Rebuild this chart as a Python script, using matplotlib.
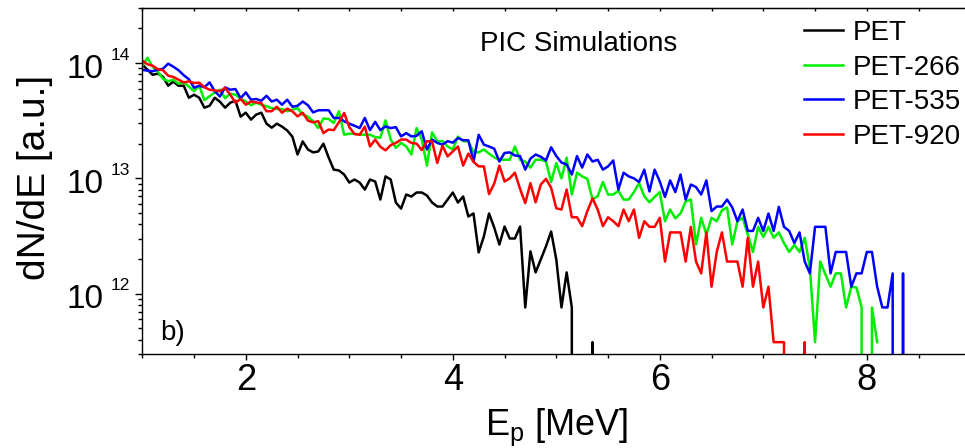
#!/usr/bin/env python3
"""Proton spectra from PIC simulations (PET targets), log-scale dN/dE vs energy."""
import numpy as np
import matplotlib
matplotlib.use("Agg")
import matplotlib.pyplot as plt
from matplotlib.ticker import LogLocator, MultipleLocator, NullFormatter

plt.rcParams["font.family"] = ["Liberation Sans", "DejaVu Sans"]
plt.rcParams["mathtext.fontset"] = "custom"
plt.rcParams["mathtext.rm"] = "Liberation Sans"
plt.rcParams["mathtext.it"] = "Liberation Sans:italic"

# energy bins start at 1 MeV, 0.05 MeV wide; values below are dN/dE in units of 1e12
E_START = 1.0
E_STEP = 0.05
UNIT = 1e12

PET = [
    97, 87.5, 79, 81, 76, 63.6, 68.9, 63.6, 63.6, 50.0,
    53.1, 50.0, 41.0, 42.6, 50.0, 46.2, 41.0, 45.3, 47.1, 34.3,
    37.1, 32.3, 35.7, 37.1, 29.8, 27.5, 29.8, 28.1, 26.0, 23.0,
    16.1, 20.9, 17.8, 16.8, 17.1, 20.0, 15.2, 11.9, 11.7, 10.8,
    9.2, 9.77, 9.2, 8.0, 9.77, 9.39, 6.55, 10.4, 9.77, 6.17,
    5.47, 7.24, 6.96, 7.54, 7.54, 7.10, 6.17, 5.70, 5.70, 6.55,
    7.54, 6.17, 6.96, 4.67, 4.96, 2.28, 3.13, 4.96, 3.75, 2.67,
    3.82, 3.01, 3.01, 3.82, 0.76, 2.33, 1.53, 1.98, 2.57, 3.46,
    1.98, 0.76, 1.53, 0.76, 0, 0, 0, 0.38, 0,
]

PET_266 = [
    94.8, 111, 92.9, 84.1, 73.2, 69.5, 71.7, 66.2, 68.1, 62.4,
    57.0, 63.6, 47.6, 51.6, 55.4, 58.7, 49.6, 54.2, 53.1, 49.1,
    46.4, 43.1, 45.3, 43.5, 42.2, 40.6, 40.0, 39.8, 38.2, 39.4,
    40.6, 35.7, 34.3, 31.3, 27.3, 33.0, 32.7, 30.2, 38.2, 23.9,
    24.4, 24.4, 23.9, 23.9, 23.9, 22.8, 22.5, 31.8, 21.7, 18.4,
    20.3, 18.9, 16.1, 27.3, 21.7, 12.9, 25.0, 21.0, 21.0, 18.9,
    17.8, 23.0, 21.0, 21.0, 16.8, 16.8, 17.8, 16.4, 15.2, 14.5,
    14.5, 14.5, 18.9, 14.5, 14.0, 12.4, 14.5, 14.5, 14.0, 9.3,
    13.6, 10.0, 15.1, 7.24, 11.2, 10.4, 9.9, 6.55, 7.0, 9.3,
    7.24, 7.24, 7.8, 6.55, 6.55, 7.6, 9.1, 7.0, 6.2, 6.9,
    7.6, 4.25, 5.37, 4.5, 4.96, 6.3, 6.55, 2.67, 4.55, 3.26,
    4.55, 4.25, 5.27, 5.6, 2.67, 4.25, 4.55, 3.26, 2.3, 3.8,
    3.1, 3.8, 3.05, 3.4, 2.75, 2.3, 2.65, 2.3, 3.05, 1.67,
    0.38, 1.9, 1.47, 1.15, 1.5, 1.5, 0.76, 1.15, 1.13, 0.76,
    0, 0.76, 0.38,
]

PET_535 = [
    87.5, 85.8, 84.9, 87.5, 89.3, 98.7, 92.9, 86.6, 78.4, 72.4,
    61.1, 63.6, 61.7, 67.9, 57.0, 51.3, 61.5, 58.7, 59.5, 49.6,
    55.6, 48.1, 48.8, 47.1, 52.0, 46.4, 48.1, 43.5, 48.1, 41.8,
    42.6, 46.4, 43.1, 37.3, 38.9, 39.0, 39.0, 33.4, 33.4, 31.3,
    29.8, 28.6, 27.3, 33.4, 26.2, 30.9, 26.2, 28.2, 27.3, 27.8,
    23.1, 24.7, 23.1, 23.4, 25.6, 17.8, 21.7, 20.3, 19.6, 21.0,
    20.4, 22.4, 21.4, 21.4, 14.0, 23.9, 19.6, 18.9, 18.1, 14.0,
    16.6, 16.8, 15.8, 15.6, 11.9, 14.8, 16.1, 15.4, 14.3, 18.6,
    15.6, 13.7, 13.2, 10.8, 15.6, 12.4, 16.1, 14.0, 14.5, 11.9,
    12.7, 14.3, 8.0, 11.2, 10.4, 10.0, 9.3, 11.9, 7.7, 11.9,
    9.4, 6.9, 9.6, 7.6, 10.8, 6.55, 8.84, 8.4, 7.24, 9.6,
    5.2, 5.7, 5.7, 6.55, 5.6, 4.25, 5.37, 3.5, 3.5, 4.55,
    3.5, 4.96, 3.5, 5.66, 3.8, 3.5, 2.75, 3.4, 1.9, 1.5,
    3.8, 3.8, 3.8, 1.5, 2.3, 2.3, 2.3, 1.15, 1.5, 1.5,
    2.3, 2.3, 1.15, 0.76, 0.76, 1.5, 0, 1.5, 0,
]

PET_920 = [
    104.7, 97.6, 94.8, 88.4, 86.6, 77.6, 75.7, 71.7, 67.9, 69.3,
    67.1, 67.5, 61.7, 58.7, 57.9, 57.0, 60.8, 53.1, 45.3, 48.8,
    43.5, 46.4, 45.5, 44.9, 38.2, 38.2, 41.8, 37.1, 40.2, 38.1,
    34.5, 37.1, 31.7, 30.6, 31.3, 24.7, 26.5, 26.2, 30.7, 36.9,
    27.8, 24.2, 23.9, 28.1, 18.9, 21.7, 18.8, 17.5, 19.4, 20.3,
    21.7, 21.7, 20.3, 20.0, 17.6, 21.0, 20.9, 13.6, 19.2, 15.5,
    17.1, 18.9, 12.9, 16.4, 13.9, 12.7, 12.7, 7.3, 9.0, 12.9,
    9.4, 10.0, 11.2, 8.1, 6.1, 9.1, 6.2, 8.84, 9.9, 8.3,
    5.5, 5.37, 8.0, 4.6, 4.6, 3.85, 5.2, 6.7, 5.37, 3.85,
    4.6, 4.25, 3.85, 5.37, 4.25, 5.37, 3.05, 4.25, 3.8, 3.8,
    4.55, 1.9, 3.4, 3.4, 3.4, 1.9, 3.8, 1.9, 1.5, 3.4,
    1.15, 2.3, 3.4, 1.9, 1.9, 1.9, 1.15, 3.05, 1.15, 1.9,
    0.76, 1.15, 0.38, 0.38, 0.38, 0, 0, 0, 0.38, 0,
]

SERIES = [PET, PET_266, PET_535, PET_920]
LABELS = ["PET", "PET-266", "PET-535", "PET-920"]
COLORS = ["#000000", "#00ee00", "#0000ff", "#ff0000"]
DECADES = [12, 13, 14]


def energies(n):
    return E_START + E_STEP * np.arange(n)


fig = plt.figure(figsize=(9.65, 4.48), dpi=100)
ax = fig.add_axes([142.3 / 965, 94 / 448, 828 / 965, 346 / 448])

for vals, label, color in zip(SERIES, LABELS, COLORS):
    y = np.asarray(vals, dtype=float) * UNIT
    ax.plot(energies(len(y)), y, color=color, lw=1.8, label=label)

ax.set_yscale("log", nonpositive="clip")
ax.set_xlim(1, 9)
ax.set_ylim(3e11, 3e14)

for side in ax.spines.values():
    side.set_linewidth(1.0)

# x ticks: out at the bottom, short inward ones along the top
ax.xaxis.set_major_locator(MultipleLocator(2))
ax.xaxis.set_minor_locator(MultipleLocator(0.5))
ax.tick_params(axis="x", which="major", direction="out", length=4.3, width=1.0,
               labelsize=26, pad=2, top=False)
ax.tick_params(axis="x", which="minor", direction="out", length=3, width=1.0, top=False)
top = ax.secondary_xaxis("top")
top.xaxis.set_major_locator(MultipleLocator(0.5))
top.xaxis.set_major_formatter(NullFormatter())
top.tick_params(axis="x", which="both", direction="in", length=2.2, width=1.0)

# y ticks: decades with hand-set 10^n labels
ax.yaxis.set_major_locator(LogLocator(base=10, numticks=10))
ax.yaxis.set_minor_locator(LogLocator(base=10, subs=np.arange(2, 10), numticks=20))
ax.yaxis.set_major_formatter(NullFormatter())
ax.yaxis.set_minor_formatter(NullFormatter())
ax.tick_params(axis="y", which="major", direction="out", length=5.3, width=1.0, right=False)
ax.tick_params(axis="y", which="minor", direction="out", length=3, width=1.0, right=False)
for d in DECADES:
    ax.annotate("10", xy=(0, 10.0 ** d), xycoords=ax.get_yaxis_transform(),
                xytext=(-39, -14.7), textcoords="offset pixels",
                ha="right", va="baseline", fontsize=24)
    ax.annotate(str(d), xy=(0, 10.0 ** d), xycoords=ax.get_yaxis_transform(),
                xytext=(-12.3, 3.3), textcoords="offset pixels",
                ha="right", va="baseline", fontsize=12.5)

ax.set_xlabel(r"E$_\mathregular{p}$ [MeV]", fontsize=26)
ax.xaxis.set_label_coords(0.5, -0.151)
ax.set_ylabel("dN/dE [a.u.]", fontsize=28)
ax.yaxis.set_label_coords(-0.108, 0.51)

ax.text(0.527, 0.895, "PIC Simulations", transform=ax.transAxes,
        ha="center", va="center", fontsize=20)
ax.text(0.0216, 0.04, "b)", transform=ax.transAxes, fontsize=20, va="baseline")

ax.legend(loc="upper left", bbox_to_anchor=(804 / 965, 1 - 20 / 448),
          bbox_transform=fig.transFigure, frameon=False, fontsize=20,
          handlelength=1.4, handletextpad=0.35, labelspacing=0.31,
          borderpad=0, borderaxespad=0)

fig.savefig("out.png", dpi=100)
